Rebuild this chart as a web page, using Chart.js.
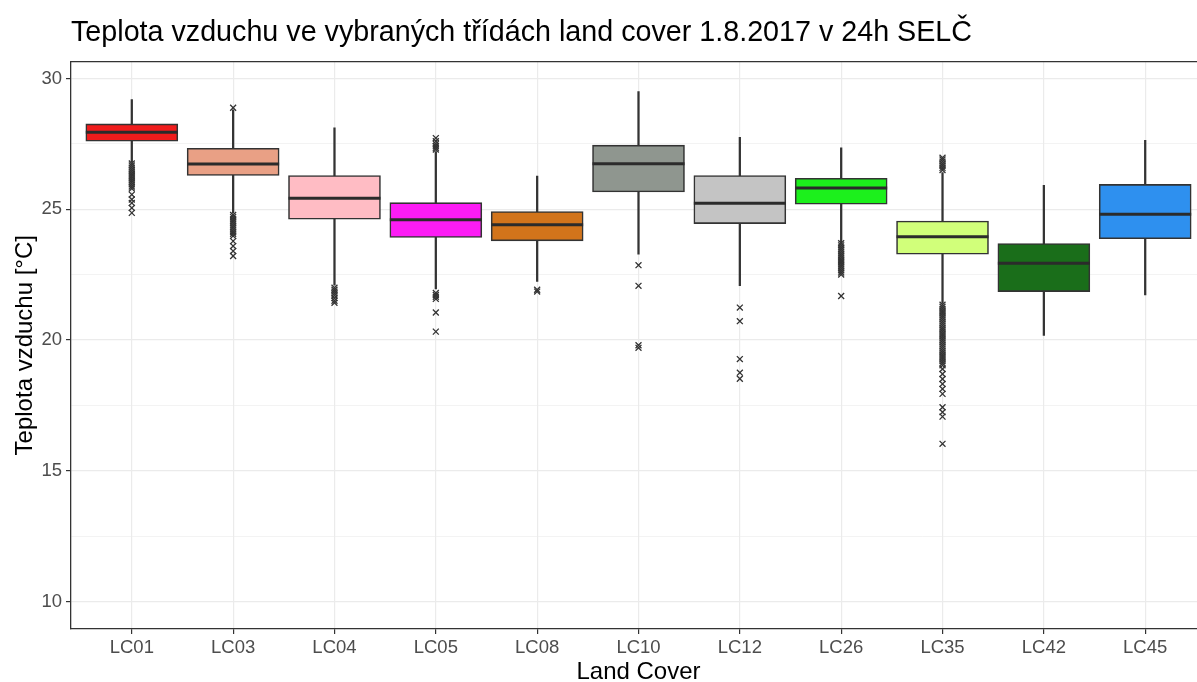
<!DOCTYPE html>
<html>
<head>
<meta charset="utf-8">
<script src="https://cdn.jsdelivr.net/npm/chart.js@4"></script>
<style>
  html, body { margin: 0; padding: 0; background: #fff; overflow: hidden; }
  #wrap { width: 1206px; height: 682px; position: relative; }
</style>
</head>
<body>
<div id="wrap"><canvas id="boxChart"></canvas></div>
<script>
// land cover classes
const kategorie = ["LC01", "LC03", "LC04", "LC05", "LC08", "LC10", "LC12", "LC26", "LC35", "LC42", "LC45"];

// box plot statistics (°C)
const whiskerLow = [26.80, 24.85, 22.10, 21.95, 22.24, 23.28, 22.08, 23.75, 21.40, 20.17, 21.72];
const q1 = [27.60, 26.29, 24.62, 23.92, 23.79, 25.66, 24.45, 25.19, 23.28, 21.85, 23.87];
const median = [27.94, 26.73, 25.42, 24.60, 24.41, 26.74, 25.23, 25.81, 23.95, 22.93, 24.81];
const q3 = [28.26, 27.33, 26.29, 25.25, 24.91, 27.45, 26.29, 26.18, 24.55, 23.69, 25.95];
const whiskerHigh = [29.19, 28.80, 28.11, 27.20, 26.27, 29.50, 27.75, 27.35, 26.40, 25.91, 27.63];

// outliers per class
const outliers = [
  [26.75, 26.67, 26.59, 26.51, 26.43, 26.35, 26.27, 26.19, 26.11, 26.03, 25.95, 25.87, 25.79, 25.56, 25.37, 25.24, 25.05, 24.86],
  [28.88, 24.78, 24.70, 24.62, 24.54, 24.46, 24.38, 24.30, 24.22, 24.14, 24.06, 23.98, 23.78, 23.59, 23.40, 23.21],
  [22.00, 21.92, 21.85, 21.78, 21.70, 21.60, 21.50, 21.42],
  [27.72, 27.60, 27.50, 27.42, 27.35, 27.28, 21.80, 21.72, 21.65, 21.57, 21.05, 20.32],
  [21.92, 21.85],
  [22.86, 22.07, 19.80, 19.70],
  [21.24, 20.72, 19.27, 18.75, 18.52],
  [23.70, 23.62, 23.54, 23.46, 23.38, 23.30, 23.22, 23.14, 23.06, 22.98, 22.90, 22.82, 22.74, 22.66, 22.58, 22.50, 21.68],
  [26.50, 26.58, 26.66, 26.74, 26.82, 26.90, 26.97,
   21.35, 21.27, 21.19, 21.11, 21.03, 20.95, 20.87, 20.79, 20.71, 20.63, 20.55, 20.47, 20.39, 20.31,
   20.23, 20.15, 20.07, 19.99, 19.91, 19.83, 19.75, 19.67, 19.59, 19.51, 19.43, 19.35, 19.27, 19.19,
   19.11, 19.03, 18.89, 18.70, 18.51, 18.32, 18.13, 17.94, 17.43, 17.24, 17.07, 16.03],
  [],
  []
];

const barvy = ["#f01c1c", "#e9a085", "#ffbcc4", "#fc1cf5", "#d2741b", "#8f968f", "#c4c4c4", "#1cf01c", "#d1ff7a", "#1a6e1a", "#2e90ef"];

const yTicks = [10, 12.5, 15, 17.5, 20, 22.5, 25, 27.5, 30];

const pismo = "'Liberation Sans', Arial, sans-serif";
const obrys = "#333333";

const whiskerData = kategorie.map((k, i) => ({ x: i + 1, y: [whiskerLow[i], whiskerHigh[i]] }));
const boxData = kategorie.map((k, i) => ({ x: i + 1, y: [q1[i], q3[i]] }));
const medianData = kategorie.map((k, i) => ({ x: i + 1, y: median[i] }));
const outlierData = [];
outliers.forEach((seznam, i) => {
  seznam.forEach((v) => outlierData.push({ x: i + 1, y: v }));
});

var ctx = document.getElementById("boxChart").getContext("2d");
var boxChart = new Chart(ctx, {
  type: "bar",
  data: {
    datasets: [
      {
        type: "line",
        data: outlierData,
        showLine: false,
        pointStyle: "crossRot",
        pointRadius: 4.2,
        pointBorderWidth: 1.3,
        pointBorderColor: obrys,
        pointBackgroundColor: obrys,
        order: 1,
      },
      {
        type: "line",
        data: medianData,
        showLine: false,
        pointStyle: "line",
        pointRadius: 46,
        pointBorderWidth: 3,
        pointBorderColor: "#2b2b2b",
        order: 2,
      },
      {
        data: boxData,
        backgroundColor: barvy,
        borderColor: obrys,
        borderWidth: 1.6,
        borderSkipped: false,
        barThickness: 92,
        grouped: false,
        order: 3,
      },
      {
        data: whiskerData,
        backgroundColor: obrys,
        borderWidth: 0,
        barThickness: 1.6,
        grouped: false,
        order: 4,
      },
    ],
  },
  options: {
    responsive: true,
    maintainAspectRatio: false,
    animation: false,
    layout: { padding: 0, autoPadding: false },
    plugins: {
      legend: { display: false },
      tooltip: { enabled: false },
      title: {
        display: true,
        text: "Teplota vzduchu ve vybraných třídách land cover 1.8.2017 v 24h SELČ",
        align: "start",
        fullSize: false,
        color: "#000",
        font: { family: pismo, size: 28.7, weight: "normal" },
        padding: { top: 16, bottom: 11 },
      },
    },
    scales: {
      x: {
        type: "linear",
        position: "bottom",
        min: 0.4,
        max: 11.6,
        offset: false,
        afterBuildTicks: (axis) => {
          axis.ticks = kategorie.map((k, i) => ({ value: i + 1 }));
        },
        afterFit: (axis) => {
          axis.height = 53;
        },
        ticks: {
          autoSkip: false,
          maxRotation: 0,
          padding: 3,
          color: "#4d4d4d",
          font: { family: pismo, size: 18.5 },
          callback: (value) => kategorie[value - 1] || "",
        },
        grid: {
          offset: false,
          color: "#ebebeb",
          lineWidth: 1.2,
          tickLength: 5,
          tickColor: obrys,
          tickWidth: 1.2,
        },
        border: { display: true, color: obrys, width: 1.3 },
        title: {
          display: true,
          text: "Land Cover",
          color: "#000",
          font: { family: pismo, size: 24, lineHeight: 0.8 },
          padding: { top: 0, bottom: 0 },
        },
      },
      xTop: {
        type: "linear",
        position: "top",
        min: 0.4,
        max: 11.6,
        afterFit: (axis) => {
          axis.height = 0;
        },
        ticks: { display: false },
        grid: { display: false, drawTicks: false },
        border: { display: true, color: obrys, width: 1.3 },
      },
      y: {
        min: 8.95,
        max: 30.65,
        afterBuildTicks: (axis) => {
          axis.ticks = yTicks.map((v) => ({ value: v }));
        },
        afterFit: (axis) => {
          axis.width = 71;
        },
        ticks: {
          autoSkip: false,
          padding: 4,
          color: "#4d4d4d",
          font: { family: pismo, size: 18.5 },
          callback: (value) => (value % 5 === 0 ? value : ""),
        },
        grid: {
          color: "#ebebeb",
          lineWidth: (c) => (c.tick && c.tick.value % 5 === 0 ? 1.2 : 0.6),
          tickLength: 5,
          tickColor: (c) => (c.tick && c.tick.value % 5 === 0 ? obrys : "rgba(0,0,0,0)"),
          tickWidth: 1.2,
        },
        border: { display: true, color: obrys, width: 1.3 },
        title: {
          display: true,
          text: "Teplota vzduchu [°C]",
          color: "#000",
          font: { family: pismo, size: 24 },
          padding: { top: 11, bottom: 0 },
        },
      },
    },
  },
});
</script>
</body>
</html>
